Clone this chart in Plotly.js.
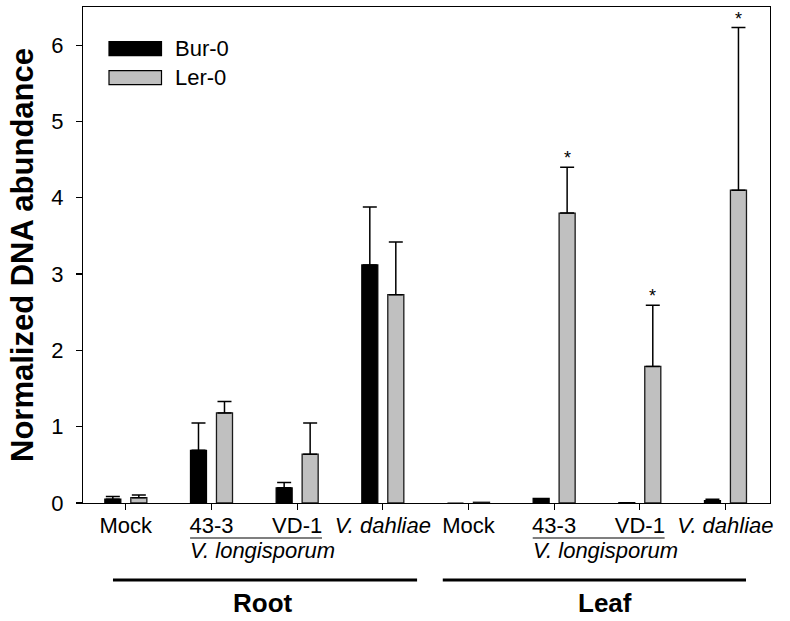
<!DOCTYPE html>
<html>
<head>
<meta charset="utf-8">
<script src="https://cdn.plot.ly/plotly-3.0.1.min.js"></script>
<style>html,body{margin:0;padding:0;background:#fff;}#chart{width:790px;height:621px;}</style>
</head>
<body>
<div id="chart"></div>
<script>
// ---- data ----
var tickLabels = ['Mock', '43-3', 'VD-1', '<i>V. dahliae</i>', 'Mock', '43-3', 'VD-1', '<i>V. dahliae</i>'];
var tissues = ['Root', 'Leaf'];
var burValues = [0.05, 0.69, 0.20, 3.12, 0.0, 0.06, 0.005, 0.03];
var burErrors = [0.035, 0.36, 0.07, 0.76, NaN, NaN, NaN, 0.02];
var lerValues = [0.07, 1.18, 0.64, 2.73, 0.01, 3.80, 1.79, 4.10];
var lerErrors = [0.035, 0.15, 0.41, 0.69, NaN, 0.60, 0.80, 2.13];
var lerSignificant = [false, false, false, false, false, true, true, true];

// ---- layout helpers ----
var L = 83, R = 770, T = 7, B = 503;
function px(xp) { return (xp - L) / (R - L); }
function py(yp) { return (B - yp) / (B - T); }
var FONT = 'Arial, "Liberation Sans", sans-serif';
var idx = tickLabels.map(function (_, i) { return i; });
var bargap = 0.393, bargroupgap = 0.383;
var slot = (1 - bargap) / 2;

function minusOf(arr) { return arr.map(function (e) { return isNaN(e) ? NaN : 0; }); }

var traces = [
  {
    type: 'bar', name: 'Bur-0', x: idx, y: burValues,
    marker: {color: '#000000', line: {color: '#000000', width: 1.2}},
    error_y: {type: 'data', symmetric: false, array: burErrors, arrayminus: minusOf(burErrors),
              color: '#000000', thickness: 1.5, width: 7},
    showlegend: false, hoverinfo: 'y'
  },
  {
    type: 'bar', name: 'Ler-0', x: idx, y: lerValues,
    marker: {color: '#c0c0c0', line: {color: '#1a1a1a', width: 1.3}},
    error_y: {type: 'data', symmetric: false, array: lerErrors, arrayminus: minusOf(lerErrors),
              color: '#000000', thickness: 1.5, width: 7},
    showlegend: false, hoverinfo: 'y'
  }
];

var annotations = [];
var shapes = [];
// significance stars
lerValues.forEach(function (v, i) {
  if (lerSignificant[i]) {
    annotations.push({xref: 'x', yref: 'y', x: i + slot / 2, y: v + lerErrors[i],
      text: '*', showarrow: false, yanchor: 'bottom', yshift: -3,
      font: {family: FONT, size: 18, color: '#000'}});
  }
});
// V. longisporum group labels & overlines (under 43-3 and VD-1 of each tissue)
[1, 5].forEach(function (start) {
  annotations.push({xref: 'x', yref: 'paper', x: start + 0.6, y: py(550), yanchor: 'middle',
    text: '<i>V. longisporum</i>', showarrow: false, font: {family: FONT, size: 22, color: '#000'}});
  shapes.push({type: 'line', xref: 'x', yref: 'paper', x0: start - 0.25, x1: start + 1.29,
    y0: py(538), y1: py(538), line: {color: '#000', width: 1.2}});
});
// tissue lines & labels
[[-0.15, 3.4], [3.7, 7.24]].forEach(function (rng, k) {
  shapes.push({type: 'line', xref: 'x', yref: 'paper', x0: rng[0], x1: rng[1],
    y0: py(580), y1: py(580), line: {color: '#000', width: 2.8}});
  annotations.push({xref: 'x', yref: 'paper', x: k === 0 ? 1.6 : 5.59, y: py(603), yanchor: 'middle',
    text: '<b>' + tissues[k] + '</b>', showarrow: false, font: {family: FONT, size: 26, color: '#000'}});
});
// legend (drawn manually to match the long swatches)
[['Bur-0', '#000000', 41.7], ['Ler-0', '#c0c0c0', 70.7]].forEach(function (it) {
  shapes.push({type: 'rect', xref: 'paper', yref: 'paper', x0: px(109), x1: px(161.5),
    y0: py(it[2] + 14), y1: py(it[2]), fillcolor: it[1], line: {color: '#000', width: 1.2}});
  annotations.push({xref: 'paper', yref: 'paper', x: px(173), y: py(it[2] + 7), xanchor: 'left',
    yanchor: 'middle', text: it[0], showarrow: false, font: {family: FONT, size: 22, color: '#000'}});
});

var layout = {
  width: 790, height: 621,
  margin: {l: L, r: 790 - R, t: T, b: 621 - B},
  paper_bgcolor: '#fff', plot_bgcolor: '#fff',
  barmode: 'group', bargap: bargap, bargroupgap: bargroupgap,
  font: {family: FONT, size: 22, color: '#000'},
  showlegend: false,
  xaxis: {
    range: [-0.5, 7.52], tickmode: 'array', tickvals: idx, ticktext: tickLabels,
    ticks: 'outside', ticklen: 6, tickwidth: 1.2, tickcolor: '#000', ticklabelstandoff: -4,
    showline: true, linecolor: '#000', linewidth: 1.2, mirror: true,
    showgrid: false, zeroline: false, tickfont: {family: FONT, size: 22, color: '#000'}
  },
  yaxis: {
    range: [0, 6.5], tickvals: [0, 1, 2, 3, 4, 5, 6],
    ticks: 'outside', ticklen: 6, tickwidth: 1.2, tickcolor: '#000', ticklabelstandoff: 8,
    showline: true, linecolor: '#000', linewidth: 1.2, mirror: true,
    showgrid: false, zeroline: false, tickfont: {family: FONT, size: 22, color: '#000'},
    title: {text: '<b>Normalized DNA abundance</b>', standoff: 8, font: {family: FONT, size: 31, color: '#000'}}
  },
  annotations: annotations,
  shapes: shapes
};

Plotly.newPlot('chart', traces, layout, {displayModeBar: false, staticPlot: true});
</script>
</body>
</html>
